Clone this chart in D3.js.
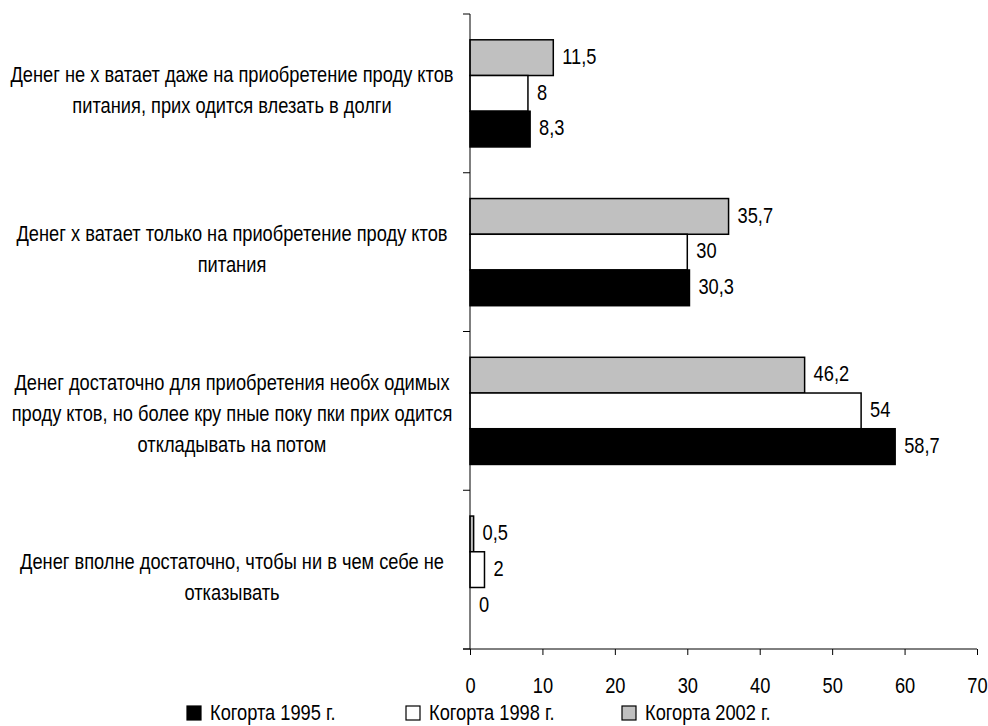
<!DOCTYPE html>
<html lang="ru">
<head>
<meta charset="UTF-8">
<title>Когорты</title>
<script src="https://cdn.jsdelivr.net/npm/d3@7/dist/d3.min.js"></script>
<style>
  body { margin: 0; background: #fff; }
  svg { display: block; font-family: "Liberation Sans Narrow", "Arial Narrow", "Liberation Sans", Arial, sans-serif; }
</style>
</head>
<body>
<svg width="988" height="726"></svg>
<script>
// категории (сверху вниз)
const categories = [
  ["Денег не х ватает даже на приобретение проду ктов", "питания, прих одится влезать в долги"],
  ["Денег х ватает только на приобретение проду ктов", "питания"],
  ["Денег достаточно для приобретения необх одимых", "проду ктов, но более кру пные поку пки прих одится", "откладывать на потом"],
  ["Денег вполне достаточно, чтобы ни в чем себе не", "отказывать"]
];
const series = ["Когорта 2002 г.", "Когорта 1998 г.", "Когорта 1995 г."];
const v2002 = [11.5, 35.7, 46.2, 0.5];
const v1998 = [8, 30, 54, 2];
const v1995 = [8.3, 30.3, 58.7, 0];
const xTicks = [0, 10, 20, 30, 40, 50, 60, 70];
const legendOrder = ["Когорта 1995 г.", "Когорта 1998 г.", "Когорта 2002 г."];
const fills = {"Когорта 1995 г.": "#000", "Когорта 1998 г.": "#fff", "Когорта 2002 г.": "#c0c0c0"};

const values = [v2002, v1998, v1995];
const fmt = d => String(d).replace(".", ",");

const svg = d3.select("svg");
const fontSize = 22;

// шрифт узкий: если Arial Narrow нет, сжимаем обычный по горизонтали
const probe = svg.append("text").attr("font-size", 100).text("Когорта 1995");
const wNarrow = probe.node().getComputedTextLength();
probe.attr("font-family", "Liberation Sans, Arial, sans-serif");
const wWide = probe.node().getComputedTextLength();
probe.remove();
const sx = Math.abs(wNarrow - wWide) < 1 ? 0.83 : 1;

const x = d3.scaleLinear().domain([0, 70]).range([470, 977]);
const y = d3.scaleBand().domain(d3.range(categories.length)).range([14, 649]);
const inner = d3.scaleBand().domain(d3.range(series.length))
  .range([y.bandwidth() * 0.1625, y.bandwidth() * 0.8375]);

// бары
const groups = svg.append("g").selectAll("g")
  .data(categories.map((c, i) => i))
  .join("g")
  .attr("transform", i => `translate(0,${y(i)})`);

groups.selectAll("rect")
  .data(i => series.map((s, k) => ({s, k, v: values[k][i]})))
  .join("rect")
  .attr("x", x(0))
  .attr("y", d => inner(d.k))
  .attr("width", d => x(d.v) - x(0))
  .attr("height", inner.bandwidth())
  .attr("fill", d => fills[d.s])
  .attr("stroke", "#000")
  .attr("stroke-width", 1.5);

groups.selectAll("text.val")
  .data(i => series.map((s, k) => ({s, k, v: values[k][i]})))
  .join("text")
  .attr("class", "val")
  .attr("transform", d => `translate(${x(d.v) + 9},${inner(d.k) + inner.bandwidth() / 2}) scale(${sx},1)`)
  .attr("dy", "0.28em")
  .attr("font-size", fontSize)
  .text(d => fmt(d.v));

// оси
const xAxis = svg.append("g")
  .attr("transform", "translate(0,649)")
  .call(d3.axisBottom(x).tickValues(xTicks).tickSize(6).tickPadding(22).tickFormat(d3.format("d")));
xAxis.attr("font-family", null).attr("font-size", fontSize);
xAxis.select(".domain").attr("d", `M${x(0) - 7},0H${x(70)}`);
xAxis.selectAll("text").attr("transform", `scale(${sx},1)`);
xAxis.selectAll("line, path").attr("stroke", "#000");

const yAxis = svg.append("g").attr("transform", `translate(${x(0)},0)`);
yAxis.append("path").attr("d", `M0,14V649`).attr("stroke", "#000").attr("fill", "none");
yAxis.selectAll("line")
  .data(d3.range(categories.length + 1))
  .join("line")
  .attr("x1", -7).attr("x2", 0)
  .attr("y1", i => i < categories.length ? y(i) : 649)
  .attr("y2", i => i < categories.length ? y(i) : 649)
  .attr("stroke", "#000");

// подписи категорий
const lineH = 31;
const labelShift = [-4, -3, 2, 7];
svg.append("g").selectAll("text")
  .data(categories)
  .join("text")
  .attr("text-anchor", "middle")
  .attr("font-size", fontSize)
  .attr("transform", (lines, i) => {
    const cy = y(i) + y.bandwidth() / 2 - (lines.length - 1) * lineH / 2 + labelShift[i];
    return `translate(232,${cy}) scale(${sx},1)`;
  })
  .each(function(lines) {
    d3.select(this).selectAll("tspan")
      .data(lines)
      .join("tspan")
      .attr("x", 0)
      .attr("y", (l, j) => j * lineH)
      .attr("dy", "0.35em")
      .text(l => l);
  });

// легенда
const legendX = [187, 406, 622];
const legend = svg.append("g").selectAll("g")
  .data(legendOrder)
  .join("g")
  .attr("transform", (d, i) => `translate(${legendX[i]},706)`);
legend.append("rect")
  .attr("width", 14).attr("height", 14)
  .attr("fill", d => fills[d]).attr("stroke", "#000").attr("stroke-width", 1.2);
legend.append("text")
  .attr("transform", `translate(23,14) scale(${sx},1)`)
  .attr("font-size", fontSize)
  .text(d => d);
</script>
</body>
</html>
